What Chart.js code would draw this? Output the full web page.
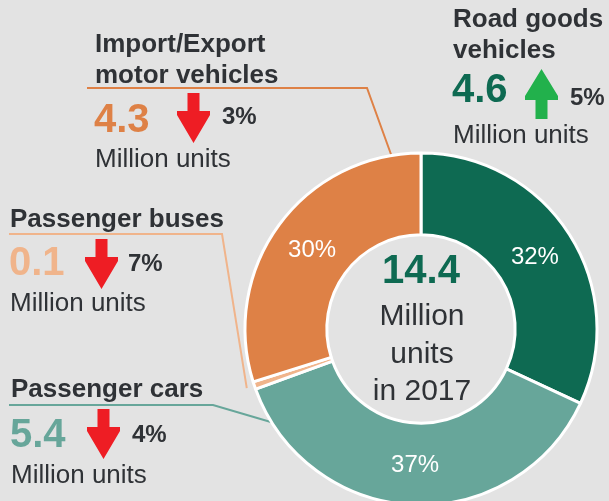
<!DOCTYPE html>
<html><head><meta charset="utf-8">
<script src="https://cdn.jsdelivr.net/npm/chart.js@4/dist/chart.umd.min.js"></script>
<style>html,body{margin:0;padding:0;background:#e3e3e3;overflow:hidden}canvas{display:block}</style>
</head><body>
<canvas id="c" width="609" height="501"></canvas>
<script>
// ---- data ----
const titleLines = [['Road goods', 'vehicles'], ['Passenger cars'], ['Passenger buses'], ['Import/Export', 'motor vehicles']];
const categories = titleLines.map(t => t.join(' '));
const valuesMillion = [4.6, 5.4, 0.1, 4.3];
const shareLabels = ['32%', '37%', '', '30%'];
const changePct = [5, -4, -7, -3];
const totalValue = '14.4';
const centerLines = ['Million', 'units', 'in 2017'];
const unitLabel = 'Million units';

// ---- style ----
const sliceColors = ['#0e6a52', '#67a69a', '#f0b48b', '#de8146'];
const FONT = '"Liberation Sans", Arial, sans-serif';
const DARK = '#2f3236';
const notes = [
  {x: 453, titleBase: [27, 58], valueBase: 102, arrowX: 525, arrowTop: 69, pctX: 570, pctBase: 105, unitBase: 143, leader: null},
  {x: 11, titleBase: [397], valueBase: 447, arrowX: 87, arrowTop: 409, pctX: 132, pctBase: 442, unitBase: 483,
    leader: {pts: [[9, 405], [213, 405]], frac: 0.9, dr: -4}},
  {x: 10, titleBase: [227], valueBase: 275, arrowX: 85, arrowTop: 239, pctX: 128, pctBase: 271, unitBase: 311,
    leader: {pts: [[9, 234], [222, 234]], frac: 0.5, dr: 8}},
  {x: 95, titleBase: [52, 83], valueBase: 132, arrowX: 177, arrowTop: 93, pctX: 222, pctBase: 124, unitBase: 167,
    leader: {pts: [[87, 88], [367, 88]], frac: 0.91, dr: 0}}
];

function drawArrow(ctx, x, top, up, color) {
  const w = 33, h = 50, sw = 6, mid = x + w / 2;
  ctx.fillStyle = color;
  ctx.beginPath();
  if (up) {
    ctx.moveTo(mid, top);
    ctx.lineTo(x + w, top + 27);
    ctx.lineTo(x + w, top + 31);
    ctx.lineTo(mid + sw, top + 31);
    ctx.lineTo(mid + sw, top + h);
    ctx.lineTo(mid - sw, top + h);
    ctx.lineTo(mid - sw, top + 31);
    ctx.lineTo(x, top + 31);
    ctx.lineTo(x, top + 27);
  } else {
    ctx.moveTo(mid - sw, top);
    ctx.lineTo(mid + sw, top);
    ctx.lineTo(mid + sw, top + 18);
    ctx.lineTo(x + w, top + 18);
    ctx.lineTo(x + w, top + 22);
    ctx.lineTo(mid, top + h);
    ctx.lineTo(x, top + 22);
    ctx.lineTo(x, top + 18);
    ctx.lineTo(mid - sw, top + 18);
  }
  ctx.closePath();
  ctx.fill();
}

const annot = {
  id: 'annot',
  beforeDatasetsDraw(chart) {
    const ctx = chart.ctx;
    const meta = chart.getDatasetMeta(0);
    notes.forEach((n, i) => {
      if (!n.leader) return;
      const p = meta.data[i].getProps(['x', 'y', 'startAngle', 'endAngle', 'outerRadius'], true);
      const a = p.startAngle + n.leader.frac * (p.endAngle - p.startAngle);
      const r = p.outerRadius + n.leader.dr;
      ctx.save();
      ctx.strokeStyle = sliceColors[i];
      ctx.lineWidth = 2;
      ctx.beginPath();
      ctx.moveTo(n.leader.pts[0][0], n.leader.pts[0][1]);
      for (let k = 1; k < n.leader.pts.length; k++) ctx.lineTo(n.leader.pts[k][0], n.leader.pts[k][1]);
      ctx.lineTo(p.x + r * Math.cos(a), p.y + r * Math.sin(a));
      ctx.stroke();
      ctx.restore();
    });
  },
  afterDatasetsDraw(chart) {
    const ctx = chart.ctx;
    const meta = chart.getDatasetMeta(0);
    ctx.save();
    // slice share labels
    ctx.fillStyle = '#ffffff';
    ctx.font = '24px ' + FONT;
    ctx.textAlign = 'center';
    ctx.textBaseline = 'middle';
    meta.data.forEach((arc, i) => {
      if (!shareLabels[i]) return;
      const pos = arc.tooltipPosition(true);
      ctx.fillText(shareLabels[i], pos.x, pos.y + 1);
    });
    // center text
    const c = meta.data[0].getProps(['x', 'y'], true);
    ctx.textBaseline = 'alphabetic';
    ctx.fillStyle = sliceColors[0];
    ctx.font = 'bold 40px ' + FONT;
    ctx.fillText(totalValue, c.x, c.y - 46);
    ctx.fillStyle = DARK;
    ctx.font = '30px ' + FONT;
    centerLines.forEach((t, k) => ctx.fillText(t, c.x + 1, c.y - 4 + k * 37.5));
    // annotations
    ctx.textAlign = 'left';
    notes.forEach((n, i) => {
      ctx.fillStyle = DARK;
      ctx.font = 'bold 26px ' + FONT;
      titleLines[i].forEach((t, k) => ctx.fillText(t, n.x, n.titleBase[k]));
      ctx.fillStyle = sliceColors[i];
      ctx.font = 'bold 40px ' + FONT;
      ctx.fillText(valuesMillion[i].toFixed(1), n.x - 1, n.valueBase);
      drawArrow(ctx, n.arrowX, n.arrowTop, changePct[i] > 0, changePct[i] > 0 ? '#22b14c' : '#ee1d24');
      ctx.fillStyle = DARK;
      ctx.font = 'bold 24px ' + FONT;
      ctx.fillText(Math.abs(changePct[i]) + '%', n.pctX, n.pctBase);
      ctx.font = '26px ' + FONT;
      ctx.fillText(unitLabel, n.x, n.unitBase);
    });
    ctx.restore();
  }
};

new Chart(document.getElementById('c'), {
  type: 'doughnut',
  data: {
    labels: categories,
    datasets: [{
      data: valuesMillion,
      backgroundColor: sliceColors,
      borderColor: '#ffffff',
      borderWidth: 3,
      hoverOffset: 0
    }]
  },
  options: {
    responsive: false,
    devicePixelRatio: 1,
    animation: false,
    events: [],
    cutout: '53.5%',
    radius: 176,
    layout: {padding: {left: 233, top: 157, right: 0, bottom: 0}},
    plugins: {legend: {display: false}, tooltip: {enabled: false}}
  },
  plugins: [annot]
});
</script>
</body></html>
